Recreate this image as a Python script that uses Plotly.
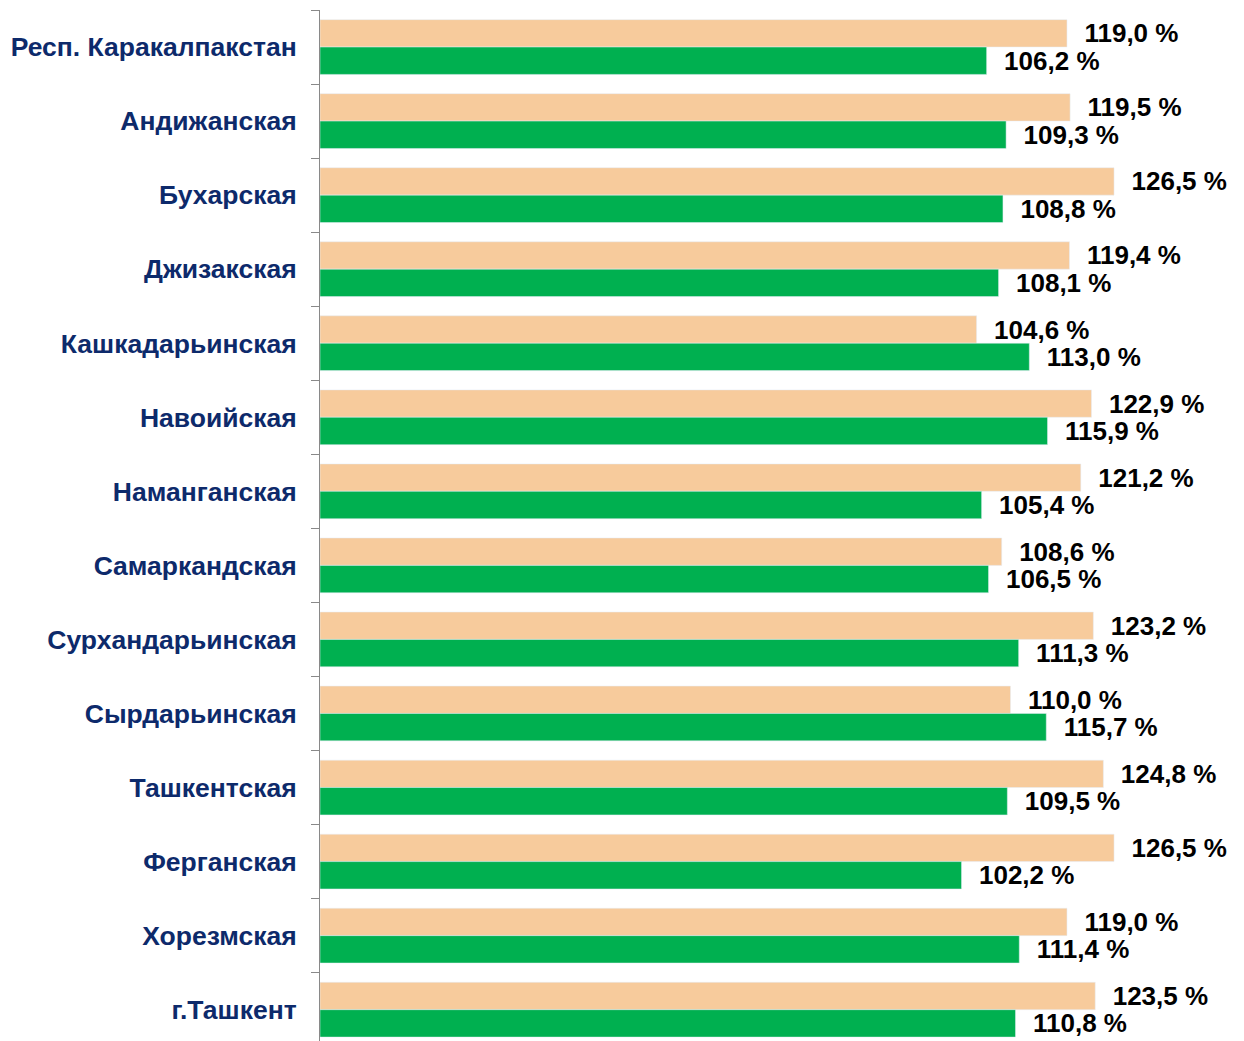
import plotly.graph_objects as go

regions = ["Респ. Каракалпакстан", "Андижанская", "Бухарская", "Джизакская",
           "Кашкадарьинская", "Навоийская", "Наманганская", "Самаркандская",
           "Сурхандарьинская", "Сырдарьинская", "Ташкентская", "Ферганская",
           "Хорезмская", "г.Ташкент"]
series_a = [119.0, 119.5, 126.5, 119.4, 104.6, 122.9, 121.2, 108.6, 123.2, 110.0, 124.8, 126.5, 119.0, 123.5]
series_b = [106.2, 109.3, 108.8, 108.1, 113.0, 115.9, 105.4, 106.5, 111.3, 115.7, 109.5, 102.2, 111.4, 110.8]

FONT = "Arial, Liberation Sans"

def lab(v):
    return "\u00a0\u00a0" + f"{v:.1f}".replace(".", ",") + " %"

fig = go.Figure()
fig.add_trace(go.Bar(y=regions, x=series_a, orientation="h", marker_color="#F7CB9C",
                     text=[lab(v) for v in series_a], textposition="outside",
                     cliponaxis=False, constraintext="none",
                     textfont=dict(family=FONT, size=26, color="#000000", weight="bold")))
fig.add_trace(go.Bar(y=regions, x=series_b, orientation="h", marker_color="#00B050",
                     text=[lab(v) for v in series_b], textposition="outside",
                     cliponaxis=False, constraintext="none",
                     textfont=dict(family=FONT, size=26, color="#000000", weight="bold")))

fig.update_layout(
    width=1244, height=1041,
    margin=dict(l=320, r=0, t=10, b=0),
    barmode="group", bargap=0.26, bargroupgap=0,
    plot_bgcolor="white", paper_bgcolor="white",
    showlegend=False,
    uniformtext=dict(mode=False),
)
fig.update_xaxes(range=[0, 147.2], showticklabels=False, showgrid=False, zeroline=False,
                 showline=False, ticks="")
fig.update_yaxes(type="category", categoryorder="array", categoryarray=regions,
                 range=[13.423, -0.5], tickson="boundaries", ticks="outside", ticklen=8,
                 tickcolor="#898989", showline=True, linecolor="#898989", linewidth=1,
                 showgrid=False, ticklabelstandoff=17,
                 tickfont=dict(family=FONT, size=26.5, color="#0D2A6B", weight="bold"))

fig.write_html("out.html", config={"displayModeBar": False},
               post_script="document.body.style.margin='0';")
